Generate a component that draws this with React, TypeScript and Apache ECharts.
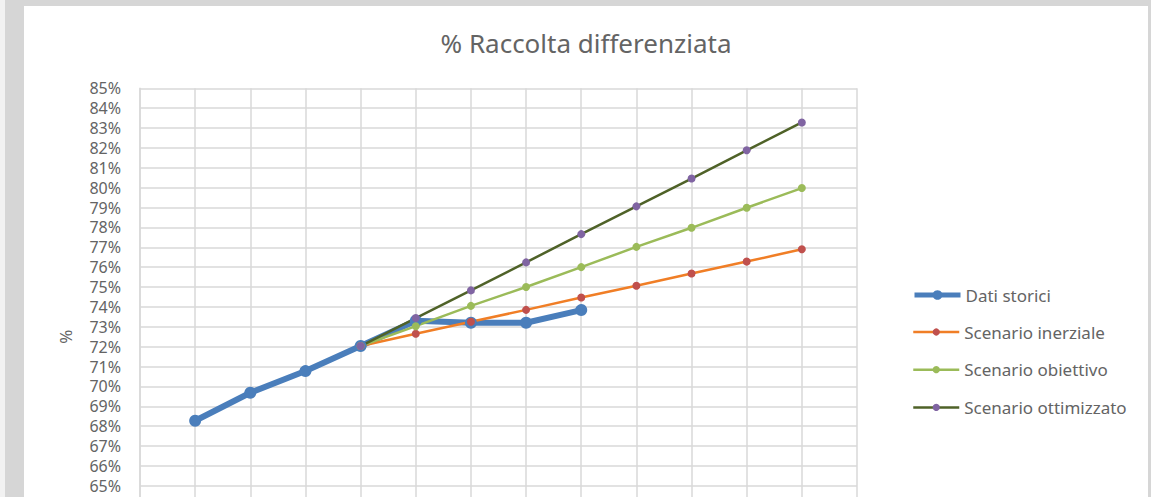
import React, { useEffect, useRef } from "react";
import * as echarts from "echarts";

const years = ["2012", "2013", "2014", "2015", "2016", "2017", "2018", "2019", "2020", "2021", "2022", "2023", "2024", "2025"];
const storici = [null, 68.27, 69.68, 70.77, 72.03, 73.3, 73.2, 73.2, 73.84, null, null, null, null, null];
const inerziale = [null, null, null, null, 72.03, 72.65, 73.25, 73.85, 74.47, 75.06, 75.68, 76.28, 76.9];
const obiettivo = [null, null, null, null, 72.03, 73.03, 74.05, 75.0, 76.0, 77.02, 77.98, 78.99, 79.98];
const ottimizzato = [null, null, null, null, 72.03, 73.44, 74.83, 76.24, 77.66, 79.06, 80.46, 81.88, 83.28];
const yTicks = { min: 60, max: 85, step: 1 };

const FONT = "Noto Sans";
const TEXT = "#646464";

export default function App() {
  const ref = useRef<HTMLDivElement>(null);
  useEffect(() => {
    if (!ref.current) return;
    const chart = echarts.init(ref.current, undefined, { renderer: "svg" });
    const mk = (name: string, data: (number | null)[], line: string, marker: string, width: number, size: number) => ({
      name,
      type: "line",
      data,
      symbol: "circle",
      symbolSize: size,
      showSymbol: true,
      connectNulls: false,
      lineStyle: { color: line, width },
      itemStyle: { color: marker, borderWidth: 0 },
      emphasis: { disabled: true },
    });
    const legendText = { fontFamily: FONT, fontSize: 17, color: TEXT };
    chart.setOption({
      animation: false,
      textStyle: { fontFamily: FONT },
      title: {
        text: "% Raccolta differenziata",
        left: "center",
        top: 19,
        textStyle: { fontFamily: FONT, fontSize: 26, fontWeight: "normal", color: TEXT },
      },
      legend: [
        {
          orient: "vertical",
          left: 883,
          top: 275.5,
          itemWidth: 46,
          itemHeight: 12,
          textStyle: legendText,
          data: [{ name: "Dati storici", lineStyle: { width: 5 } }],
        },
        {
          orient: "vertical",
          left: 883,
          top: 312.5,
          itemWidth: 46,
          itemHeight: 9,
          itemGap: 20.7,
          textStyle: legendText,
          data: [
            { name: "Scenario inerziale", lineStyle: { width: 2.5 } },
            { name: "Scenario obiettivo", lineStyle: { width: 2.5 } },
            { name: "Scenario ottimizzato", lineStyle: { width: 2.5 } },
          ],
        },
      ],
      grid: { left: 116, top: 82.3, width: 717, height: 496.8, containLabel: false },
      xAxis: {
        type: "category",
        data: years,
        boundaryGap: false,
        axisLine: { show: false },
        axisTick: { show: false },
        axisLabel: { show: false },
        splitLine: { show: true, lineStyle: { color: "#d9d9d9", width: 1.5 } },
      },
      yAxis: {
        type: "value",
        min: yTicks.min,
        max: yTicks.max,
        interval: yTicks.step,
        name: "%",
        nameLocation: "middle",
        nameRotate: 90,
        nameGap: 66,
        nameTextStyle: { fontFamily: FONT, fontSize: 17, color: TEXT },
        axisLine: { show: true, lineStyle: { color: "#d9d9d9", width: 1.5 } },
        axisTick: { show: false },
        axisLabel: { formatter: (v: number) => `${v}%`, fontFamily: FONT, fontSize: 16, color: TEXT, margin: 19 },
        splitLine: { show: true, lineStyle: { color: "#d9d9d9", width: 1.5 } },
      },
      series: [
        mk("Dati storici", storici, "#4A7EBB", "#4A7EBB", 6, 12),
        mk("Scenario inerziale", inerziale, "#F07E26", "#C0504D", 2.5, 8),
        mk("Scenario obiettivo", obiettivo, "#9BBB59", "#9BBB59", 2.5, 8),
        mk("Scenario ottimizzato", ottimizzato, "#4F6228", "#8064A2", 2.5, 8),
      ],
    });
    return () => chart.dispose();
  }, []);
  return (
    <div style={{ position: "fixed", left: 0, top: 0, width: 1151, height: 497, background: "#d6d6d6", overflow: "hidden" }}>
      <div style={{ position: "absolute", left: 0, top: 0, width: 5, height: 497, background: "#f2f2f2" }} />
      <div style={{ position: "absolute", left: 24, top: 6, width: 1124, height: 491, background: "#ffffff", overflow: "hidden" }}>
        <div ref={ref} style={{ width: 1124, height: 620 }} />
      </div>
    </div>
  );
}
